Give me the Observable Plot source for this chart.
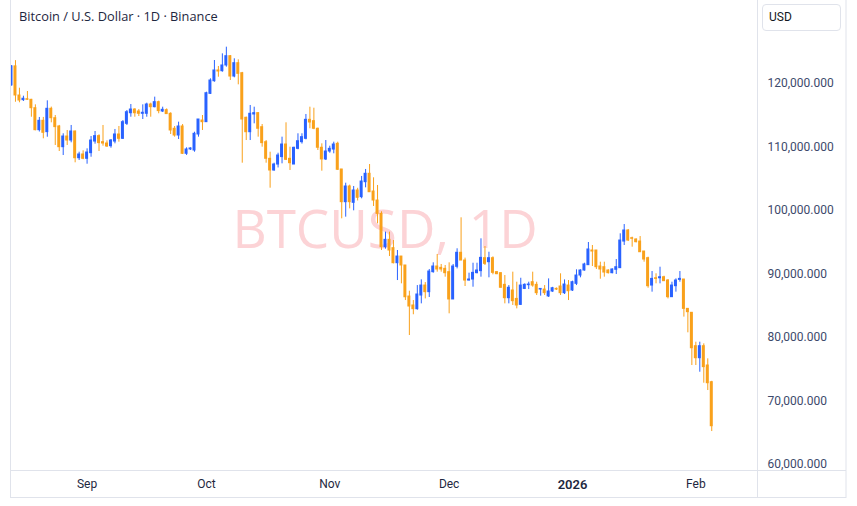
<!DOCTYPE html>
<html><head><meta charset="utf-8">
<script src="https://cdn.jsdelivr.net/npm/d3@7"></script>
<script src="https://cdn.jsdelivr.net/npm/@observablehq/plot@0.6"></script>
<style>
body{margin:0;background:#fff;font-family:Roboto,"Noto Sans",sans-serif;}
#wrap{position:relative;width:857px;height:506px;overflow:hidden;}
#chart{position:absolute;left:0;top:0;}
#title{position:absolute;left:19px;top:8px;font-family:"Open Sans",sans-serif;font-size:12.8px;line-height:16px;color:#1e2740;white-space:nowrap;}
#usd{position:absolute;left:762px;top:4px;width:79px;height:27px;box-sizing:border-box;border:1px solid #e0e3eb;border-radius:4px;font-size:12px;line-height:25px;padding-left:6px;color:#131722;background:#fff;}
</style></head><body>
<div id="wrap"><div id="chart"></div>
<div id="title">Bitcoin / U.S. Dollar · 1D · Binance</div>
<div id="usd">USD</div></div>
<script>
// Daily candles from 2025-08-13 to 2026-02-05
const startDate = "2025-08-13";
const open = [
 119700,122700,118110,117380,117530,117430,116110,112650,114125,112340,
 116015,114535,113230,109970,111650,111020,112440,108235,108820,108140,
 109030,110860,111710,110760,110550,110130,110860,111970,111290,113650,
 115320,115900,115590,115230,115230,116690,116270,117060,115590,115800,
 115230,112870,111810,113230,108930,109610,109450,111970,114170,113910,
 118370,120360,122050,121940,122840,124300,121100,123200,121620,114600,
 112330,115120,115330,113120,110760,108140,106300,107240,108410,110390,
 108140,107240,109710,110760,111290,114280,114070,112870,109880,108040,
 109290,109600,110500,106460,101310,103780,101210,103150,102100,104460,
 105780,102990,101570,99470,94220,95380,94070,91700,92750,91340,
 86450,85040,84460,86610,88180,87140,90290,91180,90970,90810,
 90290,85990,91130,93340,92120,88970,89130,90130,90450,92490,
 91860,92490,90290,90130,88290,86190,87400,86080,85140,87650,
 88240,88710,88290,87550,87550,86470,87240,87660,88030,86980,
 88180,87400,88450,89760,90550,91390,93700,93700,91180,91070,
 90550,90130,90660,90920,95110,96850,95640,95430,95110,93540,
 92490,88180,89330,89330,89490,88970,86350,88080,89070,89130,
 84510,83890,78630,76740,78630,75590,72960];
const high = [
 122800,123600,119260,118000,118740,117500,116640,114650,114660,117270,
 116280,114960,113400,112080,112600,113390,112500,109180,109400,109710,
 111650,112440,111920,113390,110970,111180,112760,113230,114170,115750,
 116690,116020,115900,116640,116900,116900,117850,117220,116270,116000,
 115380,113230,113910,113540,109870,109870,112330,114330,114960,118630,
 120740,123620,122680,124670,125720,124400,123890,123730,121750,114700,
 116540,116270,115400,113540,111020,109180,107450,109020,111550,113810,
 109970,109970,112080,112080,115120,116270,116110,112970,110500,111020,
 110130,110760,110760,106460,104300,104000,103780,103500,105360,106460,
 107240,105150,103940,99800,96590,96590,95270,93700,92750,91340,
 87290,85820,88180,89080,88650,90710,91760,93070,91500,91340,
 91760,91500,93970,98850,92500,90130,91700,91700,95540,94330,
 93430,92700,90400,90200,89760,88180,90290,88710,89330,88450,
 88710,90290,88710,87700,88180,89230,87900,87800,90030,89070,
 88970,88870,90660,90660,91700,94960,94490,93700,91860,91860,
 90660,90810,92280,96330,97790,97010,95800,95540,95900,93540,
 92650,90390,90030,91070,89650,89130,88710,89230,90390,89130,
 84510,83890,79260,79260,79000,76640,73100];
const low = [
 119600,117050,116960,117170,117350,114690,112550,112360,111290,111540,
 113810,110240,109290,108660,110240,110660,107510,107870,108000,107290,
 108390,110440,109290,110130,109920,109810,110500,110760,111180,113390,
 114690,114690,114800,114330,114690,114690,116170,115230,115430,115120,
 111970,111550,111180,108820,108670,109450,109180,111550,112600,113910,
 118270,120200,120990,121780,122570,120470,120900,119790,107450,111020,
 111020,113650,111550,109970,107450,103510,106190,106700,107350,107870,
 106300,107240,109560,110460,111130,112870,112720,109450,106190,107870,
 109020,108930,106300,98690,98950,100260,99950,101500,101840,103570,
 102880,100630,97900,93700,93910,92750,91600,88970,88450,85820,
 80310,83580,84300,85300,86080,86300,90130,90290,90290,89500,
 83730,85990,90810,92120,88030,88900,87920,90030,89500,91340,
 89400,89870,89900,87780,85300,85300,85040,84510,85040,87550,
 87550,87920,86610,86510,86610,86300,87100,87400,86610,86770,
 85820,87250,88180,89400,90450,91340,91180,90710,89180,89500,
 90000,90030,89920,90920,94490,95110,94220,94900,93430,91860,
 87760,87140,88450,88450,88870,86080,86350,87140,88710,83210,
 80740,75590,75590,74530,72800,71650,65190];
const close = [
 122700,118110,117320,117600,117430,116110,112650,114125,112235,116015,
 114535,113130,109970,111650,111020,112440,108235,108820,108140,109130,
 111020,111710,110610,110550,110080,111020,111970,111290,113910,115480,
 115900,115320,115230,115390,116690,116270,117060,115650,115860,115180,
 112600,111810,113230,108930,109610,109770,112080,114330,113910,118470,
 120470,122050,121890,122840,124300,121100,123200,121520,114330,112330,
 115230,115330,112870,110610,108140,106300,107240,108660,110390,107980,
 107450,109870,110910,111550,114280,113860,112870,109880,108040,109290,
 109710,110390,106410,101310,103780,101310,103150,102000,104560,105780,
 102880,101570,99470,94220,95380,93700,91700,92750,91340,86340,
 84880,84460,86770,88180,87140,90390,91180,90710,90710,90130,
 85990,91180,93340,92120,88970,89130,90180,90550,92540,91600,
 92490,90180,89970,87830,86190,87830,85720,85040,88180,88290,
 88340,88180,86980,87650,86980,87240,87760,87550,86980,88340,
 87290,88710,89760,90550,91500,93860,93540,91070,90710,90230,
 90130,90710,91070,95270,96850,95270,95540,95010,93430,92280,
 88080,89230,89230,89490,88870,86350,88180,88970,89230,84510,
 83990,78310,76740,78630,75330,72800,66030];

const monthTicks = ["2025-09-01","2025-10-01","2025-11-01","2025-12-01","2026-01-01","2026-02-01"].map(s => new Date(s));
const monthLabels = ["Sep","Oct","Nov","Dec","2026","Feb"];
const priceTicks = [60000,70000,80000,90000,100000,110000,120000];
const watermark = "BTCUSD, 1D";

const UP = "#2962ff", DOWN = "#f9a11b";
const t0 = new Date(startDate);
const data = open.map((o, i) => {
  const date = d3.utcDay.offset(t0, i);
  return {date, x1: d3.utcHour.offset(date, -9), x2: d3.utcHour.offset(date, 9),
          open: o, high: high[i], low: low[i], close: close[i], up: close[i] >= o};
});
const last = data[data.length - 1].date;

const chart = Plot.plot({
  width: 857, height: 506,
  marginLeft: 10, marginRight: 100, marginTop: 8, marginBottom: 36,
  style: {fontFamily: "Roboto, 'Noto Sans', sans-serif", fontSize: "12px", background: "transparent", overflow: "visible"},
  x: {type: "utc", domain: [d3.utcHour.offset(t0, -6), d3.utcHour.offset(last, 276)]},
  y: {domain: [59055, 131811]},
  marks: [
    Plot.text([watermark], {frameAnchor: "middle", dx: 1, dy: -8, fontSize: 53, fill: "#fcd3d6", fontFamily: "'Open Sans', sans-serif", style: "word-spacing: 5px"}),
    Plot.ruleX(data, {x: "date", y1: "low", y2: "high", stroke: d => d.up ? UP : DOWN, strokeWidth: 1, clip: true}),
    Plot.rect(data, {x1: "x1", x2: "x2", y1: "open", y2: "close", fill: d => d.up ? UP : DOWN, insetTop: -0.5, insetBottom: -0.5, clip: true}),
    Plot.axisY(priceTicks, {anchor: "right", tickSize: 0, tickPadding: 10, tickFormat: d3.format(",.3f"), fill: "#3d4a6b", fontSize: 12, label: null}),
    Plot.axisX(monthTicks, {anchor: "bottom", tickSize: 0, tickPadding: 9, tickFormat: (d, i) => monthLabels[i], fill: "#1e2740", fontSize: 12, label: null})
  ]
});
document.getElementById("chart").appendChild(chart);

// bold year label
d3.select(chart).selectAll("text").filter(function(){ return this.textContent === "2026"; })
  .attr("font-weight", 600).attr("font-size", 13);
// watermark word spacing
d3.select(chart).selectAll("text").filter(function(){ return this.textContent === watermark; })
  .style("word-spacing", "6px");

// pane separators and frame
const svg = d3.select(chart);
const line = "#e0e3eb";
svg.append("line").attr("x1", 757.5).attr("x2", 757.5).attr("y1", 0).attr("y2", 497).attr("stroke", line);
svg.append("line").attr("x1", 10).attr("x2", 846).attr("y1", 470.5).attr("y2", 470.5).attr("stroke", line);
svg.append("rect").attr("x", 10.5).attr("y", -2).attr("width", 835.5).attr("height", 499.5)
  .attr("fill", "none").attr("stroke", line);
</script>
</body></html>
